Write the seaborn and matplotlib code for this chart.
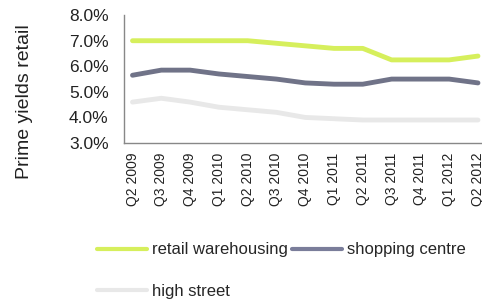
import pandas as pd
import matplotlib
matplotlib.use("Agg")
import matplotlib.pyplot as plt
import seaborn as sns

quarters = ["Q2 2009", "Q3 2009", "Q4 2009", "Q1 2010", "Q2 2010", "Q3 2010", "Q4 2010",
            "Q1 2011", "Q2 2011", "Q3 2011", "Q4 2011", "Q1 2012", "Q2 2012"]
retail_warehousing = [7.0, 7.0, 7.0, 7.0, 7.0, 6.9, 6.8, 6.7, 6.7, 6.25, 6.25, 6.25, 6.4]
shopping_centre = [5.65, 5.85, 5.85, 5.7, 5.6, 5.5, 5.35, 5.3, 5.3, 5.5, 5.5, 5.5, 5.35]
high_street = [4.6, 4.75, 4.6, 4.4, 4.3, 4.2, 4.0, 3.95, 3.9, 3.9, 3.9, 3.9, 3.9]
yticks = [3, 4, 5, 6, 7, 8]

df = pd.DataFrame({
    "Quarter": quarters * 3,
    "Yield": retail_warehousing + shopping_centre + high_street,
    "Type": ["retail warehousing"] * 13 + ["shopping centre"] * 13 + ["high street"] * 13,
})

sns.set_style("white")
plt.rcParams["font.family"] = ["Liberation Sans", "DejaVu Sans"]

fig = plt.figure(figsize=(4.82, 3.03), dpi=100)
ax = fig.add_axes([0.257, 0.528, 0.743, 0.422])

colors = {"retail warehousing": "#d6ef5c", "shopping centre": "#707388", "high street": "#e8e8e8"}
sns.lineplot(data=df, x="Quarter", y="Yield", hue="Type", palette=colors, sort=False,
             linewidth=3.5, ax=ax, legend=False)

ax.set_ylim(3, 8)
ax.set_xlim(-0.3, 12.14)
ax.set_yticks(yticks)
ax.set_yticklabels([f"{v:.1f}%" for v in yticks], fontsize=12.5, color="#222222")
ax.set_xticks(range(len(quarters)))
ax.set_xticklabels(quarters, rotation=90, fontsize=10, color="#222222")
ax.tick_params(axis="y", length=0, pad=11)
ax.tick_params(axis="x", length=0, pad=7)
ax.set_xlabel("")
ax.set_ylabel("Prime yields retail", fontsize=14, color="#222222")
ax.yaxis.set_label_coords(-0.254, 0.32)
for s in ["top", "right"]:
    ax.spines[s].set_visible(False)
for s in ["left", "bottom"]:
    ax.spines[s].set_color("#888888")
    ax.spines[s].set_linewidth(1)

# column-major fill: row 1 = retail warehousing, shopping centre; row 2 = high street
order = ["retail warehousing", "high street", "shopping centre"]
legend_colors = {"retail warehousing": "#d6ef5c", "shopping centre": "#7a7d9a", "high street": "#e8e8e8"}
handles = [plt.Line2D([], [], color=legend_colors[k], linewidth=3) for k in order]
fig.legend(handles, order, loc="upper left", bbox_to_anchor=(0.201, 0.2),
           ncol=2, frameon=False, fontsize=12, handlelength=3.0, handletextpad=0.3,
           columnspacing=0.25, labelspacing=1.6, borderaxespad=0, borderpad=0)

fig.savefig("out.png", dpi=100)
